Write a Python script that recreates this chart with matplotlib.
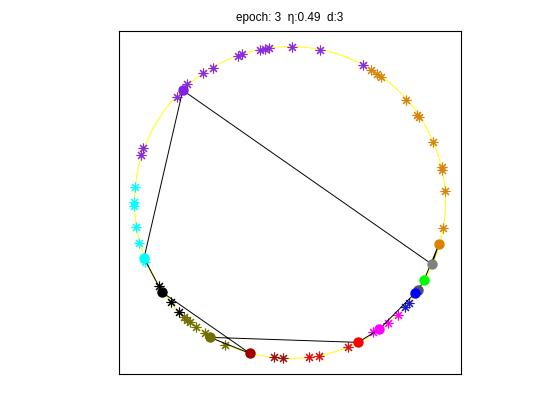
import numpy as np
import matplotlib
matplotlib.use("Agg")
import matplotlib.pyplot as plt

# ---- data ----
title = "epoch: 3  \u03b7:0.49  d:3"

# sample points (stars) per cluster colour
purple_x = [-0.946, -0.959, -0.727, -0.663, -0.560, -0.495, -0.335, -0.309, -0.193, -0.161, -0.135, 0.013, 0.193, 0.470]
purple_y = [0.351, 0.306, 0.679, 0.762, 0.833, 0.865, 0.942, 0.955, 0.975, 0.987, 0.994, 1.000, 0.975, 0.885]
orange_x = [0.521, 0.560, 0.585, 0.746, 0.817, 0.830, 0.920, 0.978, 0.978, 0.997, 0.984]
orange_y = [0.852, 0.827, 0.807, 0.659, 0.563, 0.550, 0.389, 0.228, 0.209, 0.074, -0.164]
blue_x = [0.740, 0.766]
blue_y = [-0.672, -0.647]
magenta_x = [0.534, 0.630, 0.695]
magenta_y = [-0.833, -0.775, -0.724]
red_x = [0.373, 0.187, 0.122]
red_y = [-0.930, -0.987, -0.994]
darkred_x = [-0.045, -0.103]
darkred_y = [-1.000, -0.994]
olive_x = [-0.682, -0.663, -0.643, -0.605, -0.547, -0.418]
olive_y = [-0.737, -0.756, -0.769, -0.801, -0.839, -0.917]
black_x = [-0.843, -0.766, -0.714]
black_y = [-0.537, -0.640, -0.704]
cyan_x = [-0.997, -1.004, -1.004, -0.991, -0.971, -0.933]
cyan_y = [0.100, 0.003, -0.023, -0.158, -0.261, -0.383]

star_groups = [
    (purple_x, purple_y, "#8a2be2"),
    (orange_x, orange_y, "#d9840f"),
    (blue_x, blue_y, "#1a1acc"),
    (magenta_x, magenta_y, "#ff00ff"),
    (red_x, red_y, "#e01010"),
    (darkred_x, darkred_y, "#a01010"),
    (olive_x, olive_y, "#707000"),
    (black_x, black_y, "#000000"),
    (cyan_x, cyan_y, "#00ffff"),
]

# neurons (ring order)
neuron_x = [0.913, 0.958, 0.862, 0.823, 0.804, 0.573, 0.437, -0.515, -0.257, -0.823, -0.939, -0.690]
neuron_y = [-0.396, -0.267, -0.499, -0.563, -0.582, -0.814, -0.897, -0.865, -0.968, -0.576, -0.357, 0.720]
neuron_c = ["#808080", "#e08000", "#00ff00", "#505078", "#0000ff", "#ff00ff", "#ff0000",
            "#707000", "#a00000", "#000000", "#00ffff", "#8020e0"]

# ---- figure ----
plt.rcParams['font.family'] = ['Liberation Sans', 'DejaVu Sans']
fig = plt.figure(figsize=(5.6, 4.2), dpi=100)
ax = fig.add_axes([119/560, 46/420, 342/560, 343/420])

t = np.linspace(0, 2*np.pi, 400)
ax.plot(np.cos(t), np.sin(t), color="#ffff00", lw=0.7, zorder=1)

for xs, ys, c in star_groups:
    ax.plot(xs, ys, linestyle='none', marker=(8, 2, 0), markersize=7,
            markeredgewidth=0.8, color=c, zorder=2)

ring_x = neuron_x + [neuron_x[0]]
ring_y = neuron_y + [neuron_y[0]]
ax.plot(ring_x, ring_y, color="black", lw=0.7, zorder=3)
for x, y, c in zip(neuron_x, neuron_y, neuron_c):
    ax.plot([x], [y], marker='o', markersize=6.5, color=c, markeredgecolor=c, zorder=4)

ax.set_xlim(-1.1, 1.1)
ax.set_ylim(-1.1, 1.1)
ax.set_xticks([])
ax.set_yticks([])
for s in ax.spines.values():
    s.set_linewidth(0.8)
ax.set_title(title, fontsize=8.5, pad=7)

fig.savefig("out.png", dpi=100)
